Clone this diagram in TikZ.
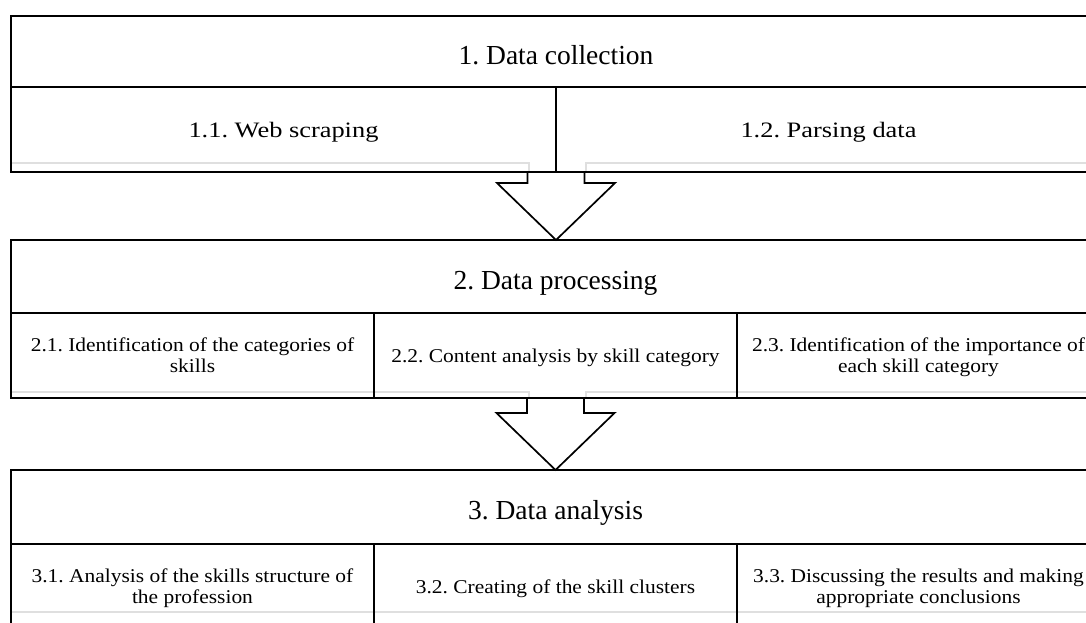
\documentclass[tikz,border=0pt]{standalone}
\usepackage{fontspec}
\setmainfont{Liberation Serif}
\newfontfamily\subAfont[FakeStretch=1.2]{Liberation Serif}
\newfontfamily\subBfont[FakeStretch=1.1]{Liberation Serif}
\usetikzlibrary{calc}
\frenchspacing
\newcommand\twoline[2]{\begin{tabular}[t]{@{}c@{}}#1\\#2\end{tabular}}
\tikzset{
  cell/.style={draw=black, line width=2.2pt, rectangle, inner sep=0pt, outer sep=0pt, anchor=north west},
  headtxt/.style={font=\frenchspacing\fontsize{27.5}{30}\selectfont, inner sep=0pt, anchor=base},
  subAtxt/.style={font=\frenchspacing\subAfont\fontsize{22}{24}\selectfont, inner sep=0pt, anchor=base},
  subBtxt/.style={font=\frenchspacing\subBfont\fontsize{19.5}{20.5}\selectfont, inner sep=0pt, anchor=base},
  shadeline/.style={draw=gray!25, line width=2.6pt},
  blockarrow/.style={draw=black, line width=1.7pt, line join=miter},
}
\begin{document}
\begin{tikzpicture}[x=1pt,y=-1pt]
\useasboundingbox (0,0) rectangle (1086,622);
\fill[white] (0,0) rectangle (1086,622);
\clip (0,0) rectangle (1086,622);

% light shade lines
\draw[shadeline] (11,163) -- (529,163) -- (529,172);
\draw[shadeline] (586,172) -- (586,163) -- (1101,163);
\draw[shadeline] (11,392) -- (529,392) -- (529,398);
\draw[shadeline] (586,398) -- (586,392) -- (1100,392);
\draw[shadeline] (11,612) -- (1100,612);

% row 1
\node[cell, minimum width=1090, minimum height=71] (h1) at (11,16) {};
\node[cell, minimum width=545, minimum height=85] (c11) at (11,87) {};
\node[cell, minimum width=545, minimum height=85] (c12) at (556,87) {};
% row 2
\node[cell, minimum width=1089, minimum height=73] (h2) at (11,240) {};
\node[cell, minimum width=363, minimum height=85] (c21) at (11,313) {};
\node[cell, minimum width=363, minimum height=85] (c22) at (374,313) {};
\node[cell, minimum width=363, minimum height=85] (c23) at (737,313) {};
% row 3
\node[cell, minimum width=1089, minimum height=74] (h3) at (11,470) {};
\node[cell, minimum width=363, minimum height=85] (c31) at (11,544) {};
\node[cell, minimum width=363, minimum height=85] (c32) at (374,544) {};
\node[cell, minimum width=363, minimum height=85] (c33) at (737,544) {};

% texts
\node[headtxt] (t1) at ($(h1.center)+(0,12.5)$) {1. Data collection};
\node[subAtxt] (t11) at ($(c11.center)+(0,8)$) {1.1. Web scraping};
\node[subAtxt] (t12) at ($(c12.center)+(0,8)$) {1.2. Parsing data};

\node[headtxt] (t2) at ($(h2.center)+(0,12.5)$) {2. Data processing};
\node[subBtxt] (t21) at ($(c21.center)+(0,-3.75)$) {\twoline{2.1. Identification of the categories of}{skills}};
\node[subBtxt] (t22) at ($(c22.center)+(0,6.5)$) {2.2. Content analysis by skill category};
\node[subBtxt] (t23) at ($(c23.center)+(0,-3.75)$) {\twoline{2.3. Identification of the importance of}{each skill category}};

\node[headtxt] (t3) at ($(h3.center)+(0,12.5)$) {3. Data analysis};
\node[subBtxt] (t31) at ($(c31.center)+(0,-3.75)$) {\twoline{3.1. Analysis of the skills structure of}{the profession}};
\node[subBtxt] (t32) at ($(c32.center)+(0,6.5)$) {3.2. Creating of the skill clusters};
\node[subBtxt] (t33) at ($(c33.center)+(0,-3.75)$) {\twoline{3.3. Discussing the results and making}{appropriate conclusions}};

% block arrows
\coordinate (a1top) at (c11.south east);
\coordinate (a1tip) at (a1top |- h2.north);
\draw[blockarrow] ($(a1top)+(-28.5,0)$) -- ($(a1tip)+(-28.5,-57)$) -- ($(a1tip)+(-59,-57)$) -- (a1tip)
  -- ($(a1tip)+(59,-57)$) -- ($(a1tip)+(28.5,-57)$) -- ($(a1top)+(28.5,0)$);

\coordinate (a2top) at (c22.south);
\coordinate (a2tip) at (a2top |- h3.north);
\draw[blockarrow] ($(a2top)+(-28.5,0)$) -- ($(a2tip)+(-28.5,-57)$) -- ($(a2tip)+(-59,-57)$) -- (a2tip)
  -- ($(a2tip)+(59,-57)$) -- ($(a2tip)+(28.5,-57)$) -- ($(a2top)+(28.5,0)$);
\end{tikzpicture}
\end{document}
